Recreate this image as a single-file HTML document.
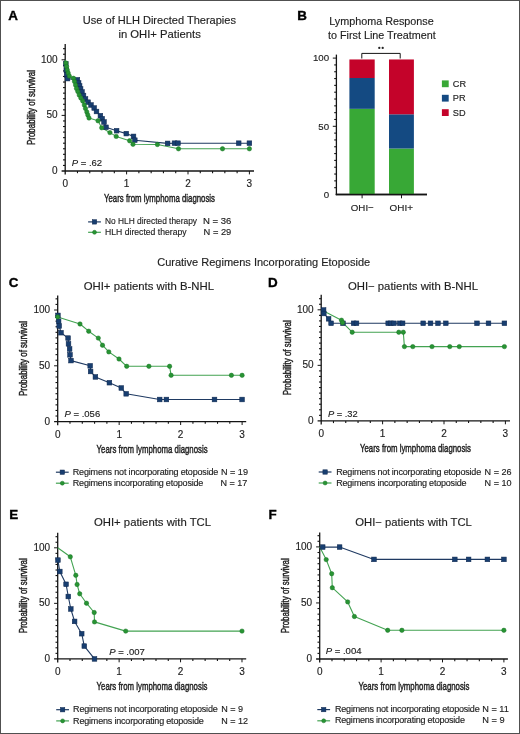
<!DOCTYPE html>
<html><head><meta charset="utf-8"><title>Figure</title>
<style>
html,body{margin:0;padding:0;background:#fff;}
body{width:520px;height:734px;overflow:hidden;position:relative;}
svg{position:absolute;left:0;top:0;display:block;will-change:transform;}
text{font-family:"Liberation Sans",sans-serif;}
</style></head><body>
<svg width="520" height="734" viewBox="0 0 520 734">
<rect x="0" y="0" width="520" height="734" fill="#fff"/>
<text x="8.20" y="19.60" font-size="13.4" font-weight="bold" fill="#000" stroke="#000" stroke-width="0.35">A</text>
<text x="82.80" y="23.80" font-size="11" textLength="153.20" lengthAdjust="spacingAndGlyphs" fill="#1e1e1e" stroke="#1e1e1e" stroke-width="0.15">Use of HLH Directed Therapies</text>
<text x="118.40" y="37.80" font-size="11" textLength="82.40" lengthAdjust="spacingAndGlyphs" fill="#1e1e1e" stroke="#1e1e1e" stroke-width="0.15">in OHI+ Patients</text>
<line x1="65.20" y1="44.00" x2="65.20" y2="174.60" stroke="#141414" stroke-width="1.3"/>
<line x1="61.60" y1="171.00" x2="254.00" y2="171.00" stroke="#141414" stroke-width="1.3"/>
<line x1="63.00" y1="165.44" x2="65.20" y2="165.44" stroke="#141414" stroke-width="1.1"/>
<line x1="63.00" y1="159.88" x2="65.20" y2="159.88" stroke="#141414" stroke-width="1.1"/>
<line x1="63.00" y1="154.32" x2="65.20" y2="154.32" stroke="#141414" stroke-width="1.1"/>
<line x1="63.00" y1="148.76" x2="65.20" y2="148.76" stroke="#141414" stroke-width="1.1"/>
<line x1="63.00" y1="143.20" x2="65.20" y2="143.20" stroke="#141414" stroke-width="1.1"/>
<line x1="63.00" y1="137.64" x2="65.20" y2="137.64" stroke="#141414" stroke-width="1.1"/>
<line x1="63.00" y1="132.08" x2="65.20" y2="132.08" stroke="#141414" stroke-width="1.1"/>
<line x1="63.00" y1="126.52" x2="65.20" y2="126.52" stroke="#141414" stroke-width="1.1"/>
<line x1="63.00" y1="120.96" x2="65.20" y2="120.96" stroke="#141414" stroke-width="1.1"/>
<line x1="61.60" y1="115.40" x2="65.20" y2="115.40" stroke="#141414" stroke-width="1.0"/>
<line x1="63.00" y1="109.84" x2="65.20" y2="109.84" stroke="#141414" stroke-width="1.1"/>
<line x1="63.00" y1="104.28" x2="65.20" y2="104.28" stroke="#141414" stroke-width="1.1"/>
<line x1="63.00" y1="98.72" x2="65.20" y2="98.72" stroke="#141414" stroke-width="1.1"/>
<line x1="63.00" y1="93.16" x2="65.20" y2="93.16" stroke="#141414" stroke-width="1.1"/>
<line x1="63.00" y1="87.60" x2="65.20" y2="87.60" stroke="#141414" stroke-width="1.1"/>
<line x1="63.00" y1="82.04" x2="65.20" y2="82.04" stroke="#141414" stroke-width="1.1"/>
<line x1="63.00" y1="76.48" x2="65.20" y2="76.48" stroke="#141414" stroke-width="1.1"/>
<line x1="63.00" y1="70.92" x2="65.20" y2="70.92" stroke="#141414" stroke-width="1.1"/>
<line x1="63.00" y1="65.36" x2="65.20" y2="65.36" stroke="#141414" stroke-width="1.1"/>
<line x1="61.60" y1="59.80" x2="65.20" y2="59.80" stroke="#141414" stroke-width="1.0"/>
<line x1="63.00" y1="54.24" x2="65.20" y2="54.24" stroke="#141414" stroke-width="1.1"/>
<line x1="63.00" y1="48.68" x2="65.20" y2="48.68" stroke="#141414" stroke-width="1.1"/>
<line x1="77.48" y1="171.00" x2="77.48" y2="173.20" stroke="#141414" stroke-width="1.1"/>
<line x1="89.76" y1="171.00" x2="89.76" y2="173.20" stroke="#141414" stroke-width="1.1"/>
<line x1="102.04" y1="171.00" x2="102.04" y2="173.20" stroke="#141414" stroke-width="1.1"/>
<line x1="114.32" y1="171.00" x2="114.32" y2="173.20" stroke="#141414" stroke-width="1.1"/>
<line x1="126.60" y1="171.00" x2="126.60" y2="174.40" stroke="#141414" stroke-width="1.0"/>
<line x1="138.88" y1="171.00" x2="138.88" y2="173.20" stroke="#141414" stroke-width="1.1"/>
<line x1="151.16" y1="171.00" x2="151.16" y2="173.20" stroke="#141414" stroke-width="1.1"/>
<line x1="163.44" y1="171.00" x2="163.44" y2="173.20" stroke="#141414" stroke-width="1.1"/>
<line x1="175.72" y1="171.00" x2="175.72" y2="173.20" stroke="#141414" stroke-width="1.1"/>
<line x1="188.00" y1="171.00" x2="188.00" y2="174.40" stroke="#141414" stroke-width="1.0"/>
<line x1="200.28" y1="171.00" x2="200.28" y2="173.20" stroke="#141414" stroke-width="1.1"/>
<line x1="212.56" y1="171.00" x2="212.56" y2="173.20" stroke="#141414" stroke-width="1.1"/>
<line x1="224.84" y1="171.00" x2="224.84" y2="173.20" stroke="#141414" stroke-width="1.1"/>
<line x1="237.12" y1="171.00" x2="237.12" y2="173.20" stroke="#141414" stroke-width="1.1"/>
<line x1="249.40" y1="171.00" x2="249.40" y2="174.40" stroke="#141414" stroke-width="1.0"/>
<text x="57.60" y="174.00" font-size="10" text-anchor="end" fill="#1e1e1e" stroke="#1e1e1e" stroke-width="0.15">0</text>
<text x="57.60" y="118.40" font-size="10" text-anchor="end" fill="#1e1e1e" stroke="#1e1e1e" stroke-width="0.15">50</text>
<text x="57.60" y="62.80" font-size="10" text-anchor="end" fill="#1e1e1e" stroke="#1e1e1e" stroke-width="0.15">100</text>
<text x="65.20" y="186.90" font-size="10" text-anchor="middle" fill="#1e1e1e" stroke="#1e1e1e" stroke-width="0.15">0</text>
<text x="126.60" y="186.90" font-size="10" text-anchor="middle" fill="#1e1e1e" stroke="#1e1e1e" stroke-width="0.15">1</text>
<text x="188.00" y="186.90" font-size="10" text-anchor="middle" fill="#1e1e1e" stroke="#1e1e1e" stroke-width="0.15">2</text>
<text x="249.40" y="186.90" font-size="10" text-anchor="middle" fill="#1e1e1e" stroke="#1e1e1e" stroke-width="0.15">3</text>
<text x="159.50" y="202.30" font-size="11.4" text-anchor="middle" textLength="111.00" lengthAdjust="spacingAndGlyphs" fill="#1e1e1e" stroke="#1e1e1e" stroke-width="0.45">Years from lymphoma diagnosis</text>
<text x="0" y="0" font-size="11.2" text-anchor="middle" textLength="75" lengthAdjust="spacingAndGlyphs" transform="translate(34.80,107.50) rotate(-90)" fill="#1e1e1e" stroke="#1e1e1e" stroke-width="0.45">Probability of survival</text>
<polyline points="65.20,59.80 65.80,64.00 66.30,70.00 66.80,75.00 67.50,78.60 77.40,79.80 78.60,83.00 79.60,86.00 80.60,89.00 82.00,92.00 83.50,95.50 85.50,99.00 88.10,102.20 91.00,105.00 94.20,108.00 96.50,111.50 100.40,115.70 102.20,118.70 104.00,122.00 106.00,127.30 116.60,130.70 126.30,133.60 133.50,136.40 134.80,140.20 167.60,143.40 174.50,143.20 178.00,143.20 238.70,143.20 249.40,143.20" fill="none" stroke="#1f3a62" stroke-width="1.1" stroke-linejoin="round"/>
<polyline points="65.20,59.80 65.90,63.00 66.60,66.50 67.30,70.00 68.20,73.00 69.30,76.00 73.50,78.30 74.50,81.50 75.50,85.00 76.50,88.50 77.80,91.50 79.20,95.00 80.80,98.00 82.70,101.00 84.30,105.00 85.50,108.50 86.80,112.00 87.80,115.00 89.00,118.00 98.00,120.80 101.70,127.80 109.90,132.60 116.20,136.40 129.60,140.80 133.00,144.30 157.40,144.50 178.50,148.80 222.50,148.80 249.40,148.80" fill="none" stroke="#43a352" stroke-width="1.1" stroke-linejoin="round"/>
<rect x="63.45" y="61.65" width="4.7" height="4.7" fill="#183e70" stroke="#10294f" stroke-width="0.5"/>
<rect x="63.95" y="67.65" width="4.7" height="4.7" fill="#183e70" stroke="#10294f" stroke-width="0.5"/>
<rect x="64.45" y="72.65" width="4.7" height="4.7" fill="#183e70" stroke="#10294f" stroke-width="0.5"/>
<rect x="65.15" y="76.25" width="4.7" height="4.7" fill="#183e70" stroke="#10294f" stroke-width="0.5"/>
<rect x="75.05" y="77.45" width="4.7" height="4.7" fill="#183e70" stroke="#10294f" stroke-width="0.5"/>
<rect x="76.25" y="80.65" width="4.7" height="4.7" fill="#183e70" stroke="#10294f" stroke-width="0.5"/>
<rect x="77.25" y="83.65" width="4.7" height="4.7" fill="#183e70" stroke="#10294f" stroke-width="0.5"/>
<rect x="78.25" y="86.65" width="4.7" height="4.7" fill="#183e70" stroke="#10294f" stroke-width="0.5"/>
<rect x="79.65" y="89.65" width="4.7" height="4.7" fill="#183e70" stroke="#10294f" stroke-width="0.5"/>
<rect x="81.15" y="93.15" width="4.7" height="4.7" fill="#183e70" stroke="#10294f" stroke-width="0.5"/>
<rect x="83.15" y="96.65" width="4.7" height="4.7" fill="#183e70" stroke="#10294f" stroke-width="0.5"/>
<rect x="85.75" y="99.85" width="4.7" height="4.7" fill="#183e70" stroke="#10294f" stroke-width="0.5"/>
<rect x="88.65" y="102.65" width="4.7" height="4.7" fill="#183e70" stroke="#10294f" stroke-width="0.5"/>
<rect x="91.85" y="105.65" width="4.7" height="4.7" fill="#183e70" stroke="#10294f" stroke-width="0.5"/>
<rect x="94.15" y="109.15" width="4.7" height="4.7" fill="#183e70" stroke="#10294f" stroke-width="0.5"/>
<rect x="98.05" y="113.35" width="4.7" height="4.7" fill="#183e70" stroke="#10294f" stroke-width="0.5"/>
<rect x="99.85" y="116.35" width="4.7" height="4.7" fill="#183e70" stroke="#10294f" stroke-width="0.5"/>
<rect x="101.65" y="119.65" width="4.7" height="4.7" fill="#183e70" stroke="#10294f" stroke-width="0.5"/>
<rect x="103.65" y="124.95" width="4.7" height="4.7" fill="#183e70" stroke="#10294f" stroke-width="0.5"/>
<rect x="114.25" y="128.35" width="4.7" height="4.7" fill="#183e70" stroke="#10294f" stroke-width="0.5"/>
<rect x="123.95" y="131.25" width="4.7" height="4.7" fill="#183e70" stroke="#10294f" stroke-width="0.5"/>
<rect x="131.15" y="134.05" width="4.7" height="4.7" fill="#183e70" stroke="#10294f" stroke-width="0.5"/>
<rect x="132.45" y="137.85" width="4.7" height="4.7" fill="#183e70" stroke="#10294f" stroke-width="0.5"/>
<rect x="165.25" y="141.05" width="4.7" height="4.7" fill="#183e70" stroke="#10294f" stroke-width="0.5"/>
<rect x="172.15" y="140.85" width="4.7" height="4.7" fill="#183e70" stroke="#10294f" stroke-width="0.5"/>
<rect x="175.65" y="140.85" width="4.7" height="4.7" fill="#183e70" stroke="#10294f" stroke-width="0.5"/>
<rect x="236.35" y="140.85" width="4.7" height="4.7" fill="#183e70" stroke="#10294f" stroke-width="0.5"/>
<rect x="247.05" y="140.85" width="4.7" height="4.7" fill="#183e70" stroke="#10294f" stroke-width="0.5"/>
<circle cx="65.90" cy="63.00" r="2.2" fill="#289433" stroke="#1b7428" stroke-width="0.5"/>
<circle cx="66.60" cy="66.50" r="2.2" fill="#289433" stroke="#1b7428" stroke-width="0.5"/>
<circle cx="67.30" cy="70.00" r="2.2" fill="#289433" stroke="#1b7428" stroke-width="0.5"/>
<circle cx="68.20" cy="73.00" r="2.2" fill="#289433" stroke="#1b7428" stroke-width="0.5"/>
<circle cx="69.30" cy="76.00" r="2.2" fill="#289433" stroke="#1b7428" stroke-width="0.5"/>
<circle cx="73.50" cy="78.30" r="2.2" fill="#289433" stroke="#1b7428" stroke-width="0.5"/>
<circle cx="74.50" cy="81.50" r="2.2" fill="#289433" stroke="#1b7428" stroke-width="0.5"/>
<circle cx="75.50" cy="85.00" r="2.2" fill="#289433" stroke="#1b7428" stroke-width="0.5"/>
<circle cx="76.50" cy="88.50" r="2.2" fill="#289433" stroke="#1b7428" stroke-width="0.5"/>
<circle cx="77.80" cy="91.50" r="2.2" fill="#289433" stroke="#1b7428" stroke-width="0.5"/>
<circle cx="79.20" cy="95.00" r="2.2" fill="#289433" stroke="#1b7428" stroke-width="0.5"/>
<circle cx="80.80" cy="98.00" r="2.2" fill="#289433" stroke="#1b7428" stroke-width="0.5"/>
<circle cx="82.70" cy="101.00" r="2.2" fill="#289433" stroke="#1b7428" stroke-width="0.5"/>
<circle cx="84.30" cy="105.00" r="2.2" fill="#289433" stroke="#1b7428" stroke-width="0.5"/>
<circle cx="85.50" cy="108.50" r="2.2" fill="#289433" stroke="#1b7428" stroke-width="0.5"/>
<circle cx="86.80" cy="112.00" r="2.2" fill="#289433" stroke="#1b7428" stroke-width="0.5"/>
<circle cx="87.80" cy="115.00" r="2.2" fill="#289433" stroke="#1b7428" stroke-width="0.5"/>
<circle cx="89.00" cy="118.00" r="2.2" fill="#289433" stroke="#1b7428" stroke-width="0.5"/>
<circle cx="98.00" cy="120.80" r="2.2" fill="#289433" stroke="#1b7428" stroke-width="0.5"/>
<circle cx="101.70" cy="127.80" r="2.2" fill="#289433" stroke="#1b7428" stroke-width="0.5"/>
<circle cx="109.90" cy="132.60" r="2.2" fill="#289433" stroke="#1b7428" stroke-width="0.5"/>
<circle cx="116.20" cy="136.40" r="2.2" fill="#289433" stroke="#1b7428" stroke-width="0.5"/>
<circle cx="129.60" cy="140.80" r="2.2" fill="#289433" stroke="#1b7428" stroke-width="0.5"/>
<circle cx="133.00" cy="144.30" r="2.2" fill="#289433" stroke="#1b7428" stroke-width="0.5"/>
<circle cx="157.40" cy="144.50" r="2.2" fill="#289433" stroke="#1b7428" stroke-width="0.5"/>
<circle cx="178.50" cy="148.80" r="2.2" fill="#289433" stroke="#1b7428" stroke-width="0.5"/>
<circle cx="222.50" cy="148.80" r="2.2" fill="#289433" stroke="#1b7428" stroke-width="0.5"/>
<circle cx="249.40" cy="148.80" r="2.2" fill="#289433" stroke="#1b7428" stroke-width="0.5"/>
<text x="71.70" y="166.30" font-size="9.9" textLength="30.40" lengthAdjust="spacingAndGlyphs" fill="#1e1e1e" stroke="#1e1e1e" stroke-width="0.15"><tspan font-style="italic">P</tspan> = .62</text>
<line x1="88.10" y1="221.90" x2="100.90" y2="221.90" stroke="#1f3a62" stroke-width="1.2"/>
<rect x="92.30" y="219.70" width="4.4" height="4.4" fill="#183e70" stroke="#10294f" stroke-width="0.5"/>
<line x1="88.10" y1="232.30" x2="100.90" y2="232.30" stroke="#43a352" stroke-width="1.2"/>
<circle cx="94.50" cy="232.30" r="2.0" fill="#289433" stroke="#1b7428" stroke-width="0.5"/>
<text x="105.00" y="224.20" font-size="9.0" textLength="92.00" lengthAdjust="spacingAndGlyphs" fill="#1e1e1e" stroke="#1e1e1e" stroke-width="0.15">No HLH directed therapy</text>
<text x="202.90" y="224.20" font-size="9.0" textLength="28.40" lengthAdjust="spacingAndGlyphs" fill="#1e1e1e" stroke="#1e1e1e" stroke-width="0.15">N = 36</text>
<text x="105.00" y="235.00" font-size="9.0" textLength="81.60" lengthAdjust="spacingAndGlyphs" fill="#1e1e1e" stroke="#1e1e1e" stroke-width="0.15">HLH directed therapy</text>
<text x="203.60" y="235.00" font-size="9.0" textLength="27.70" lengthAdjust="spacingAndGlyphs" fill="#1e1e1e" stroke="#1e1e1e" stroke-width="0.15">N = 29</text>
<text x="297.20" y="19.80" font-size="13.4" font-weight="bold" fill="#000" stroke="#000" stroke-width="0.35">B</text>
<text x="329.20" y="24.60" font-size="11" textLength="104.60" lengthAdjust="spacingAndGlyphs" fill="#1e1e1e" stroke="#1e1e1e" stroke-width="0.15">Lymphoma Response</text>
<text x="328.00" y="38.60" font-size="11" textLength="107.80" lengthAdjust="spacingAndGlyphs" fill="#1e1e1e" stroke="#1e1e1e" stroke-width="0.15">to First Line Treatment</text>
<line x1="336.40" y1="54.60" x2="336.40" y2="195.10" stroke="#141414" stroke-width="1.3"/>
<line x1="335.80" y1="194.50" x2="427.00" y2="194.50" stroke="#141414" stroke-width="1.3"/>
<line x1="334.20" y1="187.68" x2="336.40" y2="187.68" stroke="#141414" stroke-width="1.1"/>
<line x1="334.20" y1="180.86" x2="336.40" y2="180.86" stroke="#141414" stroke-width="1.1"/>
<line x1="334.20" y1="174.04" x2="336.40" y2="174.04" stroke="#141414" stroke-width="1.1"/>
<line x1="334.20" y1="167.22" x2="336.40" y2="167.22" stroke="#141414" stroke-width="1.1"/>
<line x1="334.20" y1="160.40" x2="336.40" y2="160.40" stroke="#141414" stroke-width="1.1"/>
<line x1="334.20" y1="153.58" x2="336.40" y2="153.58" stroke="#141414" stroke-width="1.1"/>
<line x1="334.20" y1="146.76" x2="336.40" y2="146.76" stroke="#141414" stroke-width="1.1"/>
<line x1="334.20" y1="139.94" x2="336.40" y2="139.94" stroke="#141414" stroke-width="1.1"/>
<line x1="334.20" y1="133.12" x2="336.40" y2="133.12" stroke="#141414" stroke-width="1.1"/>
<line x1="332.80" y1="126.30" x2="336.40" y2="126.30" stroke="#141414" stroke-width="1.0"/>
<line x1="334.20" y1="119.48" x2="336.40" y2="119.48" stroke="#141414" stroke-width="1.1"/>
<line x1="334.20" y1="112.66" x2="336.40" y2="112.66" stroke="#141414" stroke-width="1.1"/>
<line x1="334.20" y1="105.84" x2="336.40" y2="105.84" stroke="#141414" stroke-width="1.1"/>
<line x1="334.20" y1="99.02" x2="336.40" y2="99.02" stroke="#141414" stroke-width="1.1"/>
<line x1="334.20" y1="92.20" x2="336.40" y2="92.20" stroke="#141414" stroke-width="1.1"/>
<line x1="334.20" y1="85.38" x2="336.40" y2="85.38" stroke="#141414" stroke-width="1.1"/>
<line x1="334.20" y1="78.56" x2="336.40" y2="78.56" stroke="#141414" stroke-width="1.1"/>
<line x1="334.20" y1="71.74" x2="336.40" y2="71.74" stroke="#141414" stroke-width="1.1"/>
<line x1="334.20" y1="64.92" x2="336.40" y2="64.92" stroke="#141414" stroke-width="1.1"/>
<line x1="332.80" y1="58.10" x2="336.40" y2="58.10" stroke="#141414" stroke-width="1.0"/>
<text x="329.10" y="197.70" font-size="9.7" text-anchor="end" fill="#1e1e1e" stroke="#1e1e1e" stroke-width="0.15">0</text>
<text x="329.10" y="129.50" font-size="9.7" text-anchor="end" fill="#1e1e1e" stroke="#1e1e1e" stroke-width="0.15">50</text>
<text x="329.10" y="61.30" font-size="9.7" text-anchor="end" fill="#1e1e1e" stroke="#1e1e1e" stroke-width="0.15">100</text>
<rect x="349.40" y="108.84" width="25.30" height="85.66" fill="#38a836"/>
<rect x="349.40" y="78.01" width="25.30" height="30.83" fill="#144a82"/>
<rect x="349.40" y="59.46" width="25.30" height="18.55" fill="#c4032a"/>
<rect x="389.00" y="148.53" width="24.90" height="45.97" fill="#38a836"/>
<rect x="389.00" y="114.30" width="24.90" height="34.24" fill="#144a82"/>
<rect x="389.00" y="59.46" width="24.90" height="54.83" fill="#c4032a"/>
<line x1="335.80" y1="194.50" x2="427.00" y2="194.50" stroke="#141414" stroke-width="1.3"/>
<line x1="362.10" y1="194.50" x2="362.10" y2="198.30" stroke="#141414" stroke-width="1.0"/>
<line x1="401.50" y1="194.50" x2="401.50" y2="198.30" stroke="#141414" stroke-width="1.0"/>
<text x="362.30" y="210.80" font-size="9.6" text-anchor="middle" textLength="23.00" lengthAdjust="spacingAndGlyphs" fill="#1e1e1e" stroke="#1e1e1e" stroke-width="0.15">OHI−</text>
<text x="401.30" y="210.80" font-size="9.6" text-anchor="middle" textLength="23.40" lengthAdjust="spacingAndGlyphs" fill="#1e1e1e" stroke="#1e1e1e" stroke-width="0.15">OHI+</text>
<polyline points="361.8,58.5 361.8,53.4 400.2,53.4 400.2,58.5" fill="none" stroke="#141414" stroke-width="1"/>
<circle cx="379.3" cy="47.9" r="1.15" fill="#222"/><circle cx="382.7" cy="47.9" r="1.15" fill="#222"/>
<rect x="441.9" y="80.40" width="6.8" height="6.8" fill="#38a836"/>
<text x="452.80" y="86.80" font-size="9.2" fill="#1e1e1e" stroke="#1e1e1e" stroke-width="0.15">CR</text>
<rect x="441.9" y="94.80" width="6.8" height="6.8" fill="#144a82"/>
<text x="452.80" y="101.20" font-size="9.2" fill="#1e1e1e" stroke="#1e1e1e" stroke-width="0.15">PR</text>
<rect x="441.9" y="109.20" width="6.8" height="6.8" fill="#c4032a"/>
<text x="452.80" y="115.60" font-size="9.2" fill="#1e1e1e" stroke="#1e1e1e" stroke-width="0.15">SD</text>
<text x="157.20" y="265.50" font-size="11" textLength="213.00" lengthAdjust="spacingAndGlyphs" fill="#1e1e1e" stroke="#1e1e1e" stroke-width="0.15">Curative Regimens Incorporating Etoposide</text>
<text x="8.80" y="287.00" font-size="13.4" font-weight="bold" fill="#000" stroke="#000" stroke-width="0.35">C</text>
<text x="83.70" y="289.70" font-size="11.3" textLength="130.30" lengthAdjust="spacingAndGlyphs" fill="#1e1e1e" stroke="#1e1e1e" stroke-width="0.15">OHI+ patients with B-NHL</text>
<line x1="57.70" y1="295.40" x2="57.70" y2="425.20" stroke="#141414" stroke-width="1.3"/>
<line x1="54.10" y1="421.60" x2="246.20" y2="421.60" stroke="#141414" stroke-width="1.3"/>
<line x1="55.50" y1="416.02" x2="57.70" y2="416.02" stroke="#141414" stroke-width="1.1"/>
<line x1="55.50" y1="410.44" x2="57.70" y2="410.44" stroke="#141414" stroke-width="1.1"/>
<line x1="55.50" y1="404.86" x2="57.70" y2="404.86" stroke="#141414" stroke-width="1.1"/>
<line x1="55.50" y1="399.28" x2="57.70" y2="399.28" stroke="#141414" stroke-width="1.1"/>
<line x1="55.50" y1="393.70" x2="57.70" y2="393.70" stroke="#141414" stroke-width="1.1"/>
<line x1="55.50" y1="388.12" x2="57.70" y2="388.12" stroke="#141414" stroke-width="1.1"/>
<line x1="55.50" y1="382.54" x2="57.70" y2="382.54" stroke="#141414" stroke-width="1.1"/>
<line x1="55.50" y1="376.96" x2="57.70" y2="376.96" stroke="#141414" stroke-width="1.1"/>
<line x1="55.50" y1="371.38" x2="57.70" y2="371.38" stroke="#141414" stroke-width="1.1"/>
<line x1="54.10" y1="365.80" x2="57.70" y2="365.80" stroke="#141414" stroke-width="1.0"/>
<line x1="55.50" y1="360.22" x2="57.70" y2="360.22" stroke="#141414" stroke-width="1.1"/>
<line x1="55.50" y1="354.64" x2="57.70" y2="354.64" stroke="#141414" stroke-width="1.1"/>
<line x1="55.50" y1="349.06" x2="57.70" y2="349.06" stroke="#141414" stroke-width="1.1"/>
<line x1="55.50" y1="343.48" x2="57.70" y2="343.48" stroke="#141414" stroke-width="1.1"/>
<line x1="55.50" y1="337.90" x2="57.70" y2="337.90" stroke="#141414" stroke-width="1.1"/>
<line x1="55.50" y1="332.32" x2="57.70" y2="332.32" stroke="#141414" stroke-width="1.1"/>
<line x1="55.50" y1="326.74" x2="57.70" y2="326.74" stroke="#141414" stroke-width="1.1"/>
<line x1="55.50" y1="321.16" x2="57.70" y2="321.16" stroke="#141414" stroke-width="1.1"/>
<line x1="55.50" y1="315.58" x2="57.70" y2="315.58" stroke="#141414" stroke-width="1.1"/>
<line x1="54.10" y1="310.00" x2="57.70" y2="310.00" stroke="#141414" stroke-width="1.0"/>
<line x1="55.50" y1="304.42" x2="57.70" y2="304.42" stroke="#141414" stroke-width="1.1"/>
<line x1="55.50" y1="298.84" x2="57.70" y2="298.84" stroke="#141414" stroke-width="1.1"/>
<line x1="69.99" y1="421.60" x2="69.99" y2="423.80" stroke="#141414" stroke-width="1.1"/>
<line x1="82.29" y1="421.60" x2="82.29" y2="423.80" stroke="#141414" stroke-width="1.1"/>
<line x1="94.58" y1="421.60" x2="94.58" y2="423.80" stroke="#141414" stroke-width="1.1"/>
<line x1="106.88" y1="421.60" x2="106.88" y2="423.80" stroke="#141414" stroke-width="1.1"/>
<line x1="119.17" y1="421.60" x2="119.17" y2="425.00" stroke="#141414" stroke-width="1.0"/>
<line x1="131.46" y1="421.60" x2="131.46" y2="423.80" stroke="#141414" stroke-width="1.1"/>
<line x1="143.76" y1="421.60" x2="143.76" y2="423.80" stroke="#141414" stroke-width="1.1"/>
<line x1="156.05" y1="421.60" x2="156.05" y2="423.80" stroke="#141414" stroke-width="1.1"/>
<line x1="168.35" y1="421.60" x2="168.35" y2="423.80" stroke="#141414" stroke-width="1.1"/>
<line x1="180.64" y1="421.60" x2="180.64" y2="425.00" stroke="#141414" stroke-width="1.0"/>
<line x1="192.93" y1="421.60" x2="192.93" y2="423.80" stroke="#141414" stroke-width="1.1"/>
<line x1="205.23" y1="421.60" x2="205.23" y2="423.80" stroke="#141414" stroke-width="1.1"/>
<line x1="217.52" y1="421.60" x2="217.52" y2="423.80" stroke="#141414" stroke-width="1.1"/>
<line x1="229.82" y1="421.60" x2="229.82" y2="423.80" stroke="#141414" stroke-width="1.1"/>
<line x1="242.11" y1="421.60" x2="242.11" y2="425.00" stroke="#141414" stroke-width="1.0"/>
<text x="50.10" y="424.60" font-size="10" text-anchor="end" fill="#1e1e1e" stroke="#1e1e1e" stroke-width="0.15">0</text>
<text x="50.10" y="368.80" font-size="10" text-anchor="end" fill="#1e1e1e" stroke="#1e1e1e" stroke-width="0.15">50</text>
<text x="50.10" y="313.00" font-size="10" text-anchor="end" fill="#1e1e1e" stroke="#1e1e1e" stroke-width="0.15">100</text>
<text x="57.70" y="437.50" font-size="10" text-anchor="middle" fill="#1e1e1e" stroke="#1e1e1e" stroke-width="0.15">0</text>
<text x="119.17" y="437.50" font-size="10" text-anchor="middle" fill="#1e1e1e" stroke="#1e1e1e" stroke-width="0.15">1</text>
<text x="180.64" y="437.50" font-size="10" text-anchor="middle" fill="#1e1e1e" stroke="#1e1e1e" stroke-width="0.15">2</text>
<text x="242.11" y="437.50" font-size="10" text-anchor="middle" fill="#1e1e1e" stroke="#1e1e1e" stroke-width="0.15">3</text>
<text x="152.10" y="452.90" font-size="11.4" text-anchor="middle" textLength="111.00" lengthAdjust="spacingAndGlyphs" fill="#1e1e1e" stroke="#1e1e1e" stroke-width="0.45">Years from lymphoma diagnosis</text>
<text x="0" y="0" font-size="11.2" text-anchor="middle" textLength="75" lengthAdjust="spacingAndGlyphs" transform="translate(27.30,358.50) rotate(-90)" fill="#1e1e1e" stroke="#1e1e1e" stroke-width="0.45">Probability of survival</text>
<polyline points="57.90,315.40 58.60,321.20 59.20,326.00 61.00,332.70 68.10,338.10 68.50,343.80 69.60,349.00 70.00,354.80 71.00,360.60 90.20,365.80 90.60,371.50 95.40,376.90 109.40,382.70 121.30,388.00 126.20,393.80 159.70,399.50 166.40,399.50 214.50,399.50 242.10,399.50" fill="none" stroke="#1f3a62" stroke-width="1.1" stroke-linejoin="round"/>
<polyline points="57.70,316.90 80.00,324.00 88.70,331.20 98.30,338.10 102.50,345.20 108.80,351.90 119.00,359.00 126.70,366.30 148.90,366.30 169.60,366.30 171.10,375.30 231.40,375.30 242.10,375.30" fill="none" stroke="#43a352" stroke-width="1.1" stroke-linejoin="round"/>
<rect x="55.55" y="313.05" width="4.7" height="4.7" fill="#183e70" stroke="#10294f" stroke-width="0.5"/>
<rect x="56.25" y="318.85" width="4.7" height="4.7" fill="#183e70" stroke="#10294f" stroke-width="0.5"/>
<rect x="56.85" y="323.65" width="4.7" height="4.7" fill="#183e70" stroke="#10294f" stroke-width="0.5"/>
<rect x="58.65" y="330.35" width="4.7" height="4.7" fill="#183e70" stroke="#10294f" stroke-width="0.5"/>
<rect x="65.75" y="335.75" width="4.7" height="4.7" fill="#183e70" stroke="#10294f" stroke-width="0.5"/>
<rect x="66.15" y="341.45" width="4.7" height="4.7" fill="#183e70" stroke="#10294f" stroke-width="0.5"/>
<rect x="67.25" y="346.65" width="4.7" height="4.7" fill="#183e70" stroke="#10294f" stroke-width="0.5"/>
<rect x="67.65" y="352.45" width="4.7" height="4.7" fill="#183e70" stroke="#10294f" stroke-width="0.5"/>
<rect x="68.65" y="358.25" width="4.7" height="4.7" fill="#183e70" stroke="#10294f" stroke-width="0.5"/>
<rect x="87.85" y="363.45" width="4.7" height="4.7" fill="#183e70" stroke="#10294f" stroke-width="0.5"/>
<rect x="88.25" y="369.15" width="4.7" height="4.7" fill="#183e70" stroke="#10294f" stroke-width="0.5"/>
<rect x="93.05" y="374.55" width="4.7" height="4.7" fill="#183e70" stroke="#10294f" stroke-width="0.5"/>
<rect x="107.05" y="380.35" width="4.7" height="4.7" fill="#183e70" stroke="#10294f" stroke-width="0.5"/>
<rect x="118.95" y="385.65" width="4.7" height="4.7" fill="#183e70" stroke="#10294f" stroke-width="0.5"/>
<rect x="123.85" y="391.45" width="4.7" height="4.7" fill="#183e70" stroke="#10294f" stroke-width="0.5"/>
<rect x="157.35" y="397.15" width="4.7" height="4.7" fill="#183e70" stroke="#10294f" stroke-width="0.5"/>
<rect x="164.05" y="397.15" width="4.7" height="4.7" fill="#183e70" stroke="#10294f" stroke-width="0.5"/>
<rect x="212.15" y="397.15" width="4.7" height="4.7" fill="#183e70" stroke="#10294f" stroke-width="0.5"/>
<rect x="239.75" y="397.15" width="4.7" height="4.7" fill="#183e70" stroke="#10294f" stroke-width="0.5"/>
<circle cx="57.70" cy="316.90" r="2.2" fill="#289433" stroke="#1b7428" stroke-width="0.5"/>
<circle cx="80.00" cy="324.00" r="2.2" fill="#289433" stroke="#1b7428" stroke-width="0.5"/>
<circle cx="88.70" cy="331.20" r="2.2" fill="#289433" stroke="#1b7428" stroke-width="0.5"/>
<circle cx="98.30" cy="338.10" r="2.2" fill="#289433" stroke="#1b7428" stroke-width="0.5"/>
<circle cx="102.50" cy="345.20" r="2.2" fill="#289433" stroke="#1b7428" stroke-width="0.5"/>
<circle cx="108.80" cy="351.90" r="2.2" fill="#289433" stroke="#1b7428" stroke-width="0.5"/>
<circle cx="119.00" cy="359.00" r="2.2" fill="#289433" stroke="#1b7428" stroke-width="0.5"/>
<circle cx="126.70" cy="366.30" r="2.2" fill="#289433" stroke="#1b7428" stroke-width="0.5"/>
<circle cx="148.90" cy="366.30" r="2.2" fill="#289433" stroke="#1b7428" stroke-width="0.5"/>
<circle cx="169.60" cy="366.30" r="2.2" fill="#289433" stroke="#1b7428" stroke-width="0.5"/>
<circle cx="171.10" cy="375.30" r="2.2" fill="#289433" stroke="#1b7428" stroke-width="0.5"/>
<circle cx="231.40" cy="375.30" r="2.2" fill="#289433" stroke="#1b7428" stroke-width="0.5"/>
<circle cx="242.10" cy="375.30" r="2.2" fill="#289433" stroke="#1b7428" stroke-width="0.5"/>
<text x="64.50" y="416.50" font-size="9.9" textLength="35.70" lengthAdjust="spacingAndGlyphs" fill="#1e1e1e" stroke="#1e1e1e" stroke-width="0.15"><tspan font-style="italic">P</tspan> = .056</text>
<line x1="55.90" y1="472.20" x2="68.70" y2="472.20" stroke="#1f3a62" stroke-width="1.2"/>
<rect x="60.10" y="470.00" width="4.4" height="4.4" fill="#183e70" stroke="#10294f" stroke-width="0.5"/>
<line x1="55.90" y1="483.20" x2="68.70" y2="483.20" stroke="#43a352" stroke-width="1.2"/>
<circle cx="62.30" cy="483.20" r="2.0" fill="#289433" stroke="#1b7428" stroke-width="0.5"/>
<text x="72.80" y="474.80" font-size="9.0" textLength="145.50" lengthAdjust="spacing" fill="#1e1e1e" stroke="#1e1e1e" stroke-width="0.15">Regimens not incorporating etoposide</text>
<text x="220.90" y="474.80" font-size="9.0" textLength="27.10" lengthAdjust="spacingAndGlyphs" fill="#1e1e1e" stroke="#1e1e1e" stroke-width="0.15">N = 19</text>
<text x="72.80" y="485.80" font-size="9.0" textLength="130.50" lengthAdjust="spacing" fill="#1e1e1e" stroke="#1e1e1e" stroke-width="0.15">Regimens incorporating etoposide</text>
<text x="220.40" y="485.80" font-size="9.0" textLength="26.90" lengthAdjust="spacingAndGlyphs" fill="#1e1e1e" stroke="#1e1e1e" stroke-width="0.15">N = 17</text>
<text x="268.00" y="287.40" font-size="13.4" font-weight="bold" fill="#000" stroke="#000" stroke-width="0.35">D</text>
<text x="347.90" y="289.90" font-size="11.3" textLength="130.10" lengthAdjust="spacingAndGlyphs" fill="#1e1e1e" stroke="#1e1e1e" stroke-width="0.15">OHI− patients with B-NHL</text>
<line x1="321.20" y1="294.80" x2="321.20" y2="424.50" stroke="#141414" stroke-width="1.3"/>
<line x1="317.60" y1="420.90" x2="510.00" y2="420.90" stroke="#141414" stroke-width="1.3"/>
<line x1="319.00" y1="415.34" x2="321.20" y2="415.34" stroke="#141414" stroke-width="1.1"/>
<line x1="319.00" y1="409.79" x2="321.20" y2="409.79" stroke="#141414" stroke-width="1.1"/>
<line x1="319.00" y1="404.23" x2="321.20" y2="404.23" stroke="#141414" stroke-width="1.1"/>
<line x1="319.00" y1="398.68" x2="321.20" y2="398.68" stroke="#141414" stroke-width="1.1"/>
<line x1="319.00" y1="393.12" x2="321.20" y2="393.12" stroke="#141414" stroke-width="1.1"/>
<line x1="319.00" y1="387.57" x2="321.20" y2="387.57" stroke="#141414" stroke-width="1.1"/>
<line x1="319.00" y1="382.01" x2="321.20" y2="382.01" stroke="#141414" stroke-width="1.1"/>
<line x1="319.00" y1="376.46" x2="321.20" y2="376.46" stroke="#141414" stroke-width="1.1"/>
<line x1="319.00" y1="370.90" x2="321.20" y2="370.90" stroke="#141414" stroke-width="1.1"/>
<line x1="317.60" y1="365.35" x2="321.20" y2="365.35" stroke="#141414" stroke-width="1.0"/>
<line x1="319.00" y1="359.79" x2="321.20" y2="359.79" stroke="#141414" stroke-width="1.1"/>
<line x1="319.00" y1="354.24" x2="321.20" y2="354.24" stroke="#141414" stroke-width="1.1"/>
<line x1="319.00" y1="348.69" x2="321.20" y2="348.69" stroke="#141414" stroke-width="1.1"/>
<line x1="319.00" y1="343.13" x2="321.20" y2="343.13" stroke="#141414" stroke-width="1.1"/>
<line x1="319.00" y1="337.57" x2="321.20" y2="337.57" stroke="#141414" stroke-width="1.1"/>
<line x1="319.00" y1="332.02" x2="321.20" y2="332.02" stroke="#141414" stroke-width="1.1"/>
<line x1="319.00" y1="326.47" x2="321.20" y2="326.47" stroke="#141414" stroke-width="1.1"/>
<line x1="319.00" y1="320.91" x2="321.20" y2="320.91" stroke="#141414" stroke-width="1.1"/>
<line x1="319.00" y1="315.36" x2="321.20" y2="315.36" stroke="#141414" stroke-width="1.1"/>
<line x1="317.60" y1="309.80" x2="321.20" y2="309.80" stroke="#141414" stroke-width="1.0"/>
<line x1="319.00" y1="304.25" x2="321.20" y2="304.25" stroke="#141414" stroke-width="1.1"/>
<line x1="319.00" y1="298.69" x2="321.20" y2="298.69" stroke="#141414" stroke-width="1.1"/>
<line x1="333.48" y1="420.90" x2="333.48" y2="423.10" stroke="#141414" stroke-width="1.1"/>
<line x1="345.76" y1="420.90" x2="345.76" y2="423.10" stroke="#141414" stroke-width="1.1"/>
<line x1="358.04" y1="420.90" x2="358.04" y2="423.10" stroke="#141414" stroke-width="1.1"/>
<line x1="370.32" y1="420.90" x2="370.32" y2="423.10" stroke="#141414" stroke-width="1.1"/>
<line x1="382.60" y1="420.90" x2="382.60" y2="424.30" stroke="#141414" stroke-width="1.0"/>
<line x1="394.88" y1="420.90" x2="394.88" y2="423.10" stroke="#141414" stroke-width="1.1"/>
<line x1="407.16" y1="420.90" x2="407.16" y2="423.10" stroke="#141414" stroke-width="1.1"/>
<line x1="419.44" y1="420.90" x2="419.44" y2="423.10" stroke="#141414" stroke-width="1.1"/>
<line x1="431.72" y1="420.90" x2="431.72" y2="423.10" stroke="#141414" stroke-width="1.1"/>
<line x1="444.00" y1="420.90" x2="444.00" y2="424.30" stroke="#141414" stroke-width="1.0"/>
<line x1="456.28" y1="420.90" x2="456.28" y2="423.10" stroke="#141414" stroke-width="1.1"/>
<line x1="468.56" y1="420.90" x2="468.56" y2="423.10" stroke="#141414" stroke-width="1.1"/>
<line x1="480.84" y1="420.90" x2="480.84" y2="423.10" stroke="#141414" stroke-width="1.1"/>
<line x1="493.12" y1="420.90" x2="493.12" y2="423.10" stroke="#141414" stroke-width="1.1"/>
<line x1="505.40" y1="420.90" x2="505.40" y2="424.30" stroke="#141414" stroke-width="1.0"/>
<text x="313.60" y="423.90" font-size="10" text-anchor="end" fill="#1e1e1e" stroke="#1e1e1e" stroke-width="0.15">0</text>
<text x="313.60" y="368.35" font-size="10" text-anchor="end" fill="#1e1e1e" stroke="#1e1e1e" stroke-width="0.15">50</text>
<text x="313.60" y="312.80" font-size="10" text-anchor="end" fill="#1e1e1e" stroke="#1e1e1e" stroke-width="0.15">100</text>
<text x="321.20" y="436.80" font-size="10" text-anchor="middle" fill="#1e1e1e" stroke="#1e1e1e" stroke-width="0.15">0</text>
<text x="382.60" y="436.80" font-size="10" text-anchor="middle" fill="#1e1e1e" stroke="#1e1e1e" stroke-width="0.15">1</text>
<text x="444.00" y="436.80" font-size="10" text-anchor="middle" fill="#1e1e1e" stroke="#1e1e1e" stroke-width="0.15">2</text>
<text x="505.40" y="436.80" font-size="10" text-anchor="middle" fill="#1e1e1e" stroke="#1e1e1e" stroke-width="0.15">3</text>
<text x="415.50" y="452.20" font-size="11.4" text-anchor="middle" textLength="111.00" lengthAdjust="spacingAndGlyphs" fill="#1e1e1e" stroke="#1e1e1e" stroke-width="0.45">Years from lymphoma diagnosis</text>
<text x="0" y="0" font-size="11.2" text-anchor="middle" textLength="75" lengthAdjust="spacingAndGlyphs" transform="translate(290.80,357.85) rotate(-90)" fill="#1e1e1e" stroke="#1e1e1e" stroke-width="0.45">Probability of survival</text>
<polyline points="321.20,309.80 323.60,310.00 323.80,313.50 328.60,318.80 331.10,323.30 343.00,323.30 353.60,323.30 356.50,323.30 388.20,323.30 391.00,323.30 394.00,323.30 399.70,323.30 402.60,323.30 423.20,323.30 430.50,323.30 438.00,323.30 445.80,323.30 477.00,323.30 488.50,323.30 504.40,323.30" fill="none" stroke="#1f3a62" stroke-width="1.1" stroke-linejoin="round"/>
<polyline points="321.20,309.80 341.50,320.20 342.60,322.70 352.20,332.20 398.80,332.20 403.30,332.20 404.40,346.60 412.80,346.60 432.00,346.60 449.80,346.60 459.30,346.60 504.40,346.60" fill="none" stroke="#43a352" stroke-width="1.1" stroke-linejoin="round"/>
<rect x="321.25" y="307.65" width="4.7" height="4.7" fill="#183e70" stroke="#10294f" stroke-width="0.5"/>
<rect x="321.45" y="311.15" width="4.7" height="4.7" fill="#183e70" stroke="#10294f" stroke-width="0.5"/>
<rect x="326.25" y="316.45" width="4.7" height="4.7" fill="#183e70" stroke="#10294f" stroke-width="0.5"/>
<rect x="328.75" y="320.95" width="4.7" height="4.7" fill="#183e70" stroke="#10294f" stroke-width="0.5"/>
<rect x="340.65" y="320.95" width="4.7" height="4.7" fill="#183e70" stroke="#10294f" stroke-width="0.5"/>
<rect x="351.25" y="320.95" width="4.7" height="4.7" fill="#183e70" stroke="#10294f" stroke-width="0.5"/>
<rect x="354.15" y="320.95" width="4.7" height="4.7" fill="#183e70" stroke="#10294f" stroke-width="0.5"/>
<rect x="385.85" y="320.95" width="4.7" height="4.7" fill="#183e70" stroke="#10294f" stroke-width="0.5"/>
<rect x="388.65" y="320.95" width="4.7" height="4.7" fill="#183e70" stroke="#10294f" stroke-width="0.5"/>
<rect x="391.65" y="320.95" width="4.7" height="4.7" fill="#183e70" stroke="#10294f" stroke-width="0.5"/>
<rect x="397.35" y="320.95" width="4.7" height="4.7" fill="#183e70" stroke="#10294f" stroke-width="0.5"/>
<rect x="400.25" y="320.95" width="4.7" height="4.7" fill="#183e70" stroke="#10294f" stroke-width="0.5"/>
<rect x="420.85" y="320.95" width="4.7" height="4.7" fill="#183e70" stroke="#10294f" stroke-width="0.5"/>
<rect x="428.15" y="320.95" width="4.7" height="4.7" fill="#183e70" stroke="#10294f" stroke-width="0.5"/>
<rect x="435.65" y="320.95" width="4.7" height="4.7" fill="#183e70" stroke="#10294f" stroke-width="0.5"/>
<rect x="443.45" y="320.95" width="4.7" height="4.7" fill="#183e70" stroke="#10294f" stroke-width="0.5"/>
<rect x="474.65" y="320.95" width="4.7" height="4.7" fill="#183e70" stroke="#10294f" stroke-width="0.5"/>
<rect x="486.15" y="320.95" width="4.7" height="4.7" fill="#183e70" stroke="#10294f" stroke-width="0.5"/>
<rect x="502.05" y="320.95" width="4.7" height="4.7" fill="#183e70" stroke="#10294f" stroke-width="0.5"/>
<circle cx="341.50" cy="320.20" r="2.2" fill="#289433" stroke="#1b7428" stroke-width="0.5"/>
<circle cx="342.60" cy="322.70" r="2.2" fill="#289433" stroke="#1b7428" stroke-width="0.5"/>
<circle cx="352.20" cy="332.20" r="2.2" fill="#289433" stroke="#1b7428" stroke-width="0.5"/>
<circle cx="398.80" cy="332.20" r="2.2" fill="#289433" stroke="#1b7428" stroke-width="0.5"/>
<circle cx="403.30" cy="332.20" r="2.2" fill="#289433" stroke="#1b7428" stroke-width="0.5"/>
<circle cx="404.40" cy="346.60" r="2.2" fill="#289433" stroke="#1b7428" stroke-width="0.5"/>
<circle cx="412.80" cy="346.60" r="2.2" fill="#289433" stroke="#1b7428" stroke-width="0.5"/>
<circle cx="432.00" cy="346.60" r="2.2" fill="#289433" stroke="#1b7428" stroke-width="0.5"/>
<circle cx="449.80" cy="346.60" r="2.2" fill="#289433" stroke="#1b7428" stroke-width="0.5"/>
<circle cx="459.30" cy="346.60" r="2.2" fill="#289433" stroke="#1b7428" stroke-width="0.5"/>
<circle cx="504.40" cy="346.60" r="2.2" fill="#289433" stroke="#1b7428" stroke-width="0.5"/>
<text x="327.90" y="416.50" font-size="9.9" textLength="29.80" lengthAdjust="spacingAndGlyphs" fill="#1e1e1e" stroke="#1e1e1e" stroke-width="0.15"><tspan font-style="italic">P</tspan> = .32</text>
<line x1="318.70" y1="472.00" x2="331.50" y2="472.00" stroke="#1f3a62" stroke-width="1.2"/>
<rect x="322.90" y="469.80" width="4.4" height="4.4" fill="#183e70" stroke="#10294f" stroke-width="0.5"/>
<line x1="318.70" y1="483.00" x2="331.50" y2="483.00" stroke="#43a352" stroke-width="1.2"/>
<circle cx="325.10" cy="483.00" r="2.0" fill="#289433" stroke="#1b7428" stroke-width="0.5"/>
<text x="336.20" y="474.60" font-size="9.0" textLength="145.00" lengthAdjust="spacing" fill="#1e1e1e" stroke="#1e1e1e" stroke-width="0.15">Regimens not incorporating etoposide</text>
<text x="484.60" y="474.60" font-size="9.0" textLength="26.90" lengthAdjust="spacingAndGlyphs" fill="#1e1e1e" stroke="#1e1e1e" stroke-width="0.15">N = 26</text>
<text x="336.20" y="485.60" font-size="9.0" textLength="130.30" lengthAdjust="spacing" fill="#1e1e1e" stroke="#1e1e1e" stroke-width="0.15">Regimens incorporating etoposide</text>
<text x="484.60" y="485.60" font-size="9.0" textLength="26.90" lengthAdjust="spacingAndGlyphs" fill="#1e1e1e" stroke="#1e1e1e" stroke-width="0.15">N = 10</text>
<text x="9.20" y="518.60" font-size="13.4" font-weight="bold" fill="#000" stroke="#000" stroke-width="0.35">E</text>
<text x="94.00" y="526.00" font-size="11.3" textLength="117.10" lengthAdjust="spacingAndGlyphs" fill="#1e1e1e" stroke="#1e1e1e" stroke-width="0.15">OHI+ patients with TCL</text>
<line x1="57.70" y1="532.80" x2="57.70" y2="662.50" stroke="#141414" stroke-width="1.3"/>
<line x1="54.10" y1="658.90" x2="246.20" y2="658.90" stroke="#141414" stroke-width="1.3"/>
<line x1="55.50" y1="653.35" x2="57.70" y2="653.35" stroke="#141414" stroke-width="1.1"/>
<line x1="55.50" y1="647.79" x2="57.70" y2="647.79" stroke="#141414" stroke-width="1.1"/>
<line x1="55.50" y1="642.24" x2="57.70" y2="642.24" stroke="#141414" stroke-width="1.1"/>
<line x1="55.50" y1="636.68" x2="57.70" y2="636.68" stroke="#141414" stroke-width="1.1"/>
<line x1="55.50" y1="631.12" x2="57.70" y2="631.12" stroke="#141414" stroke-width="1.1"/>
<line x1="55.50" y1="625.57" x2="57.70" y2="625.57" stroke="#141414" stroke-width="1.1"/>
<line x1="55.50" y1="620.01" x2="57.70" y2="620.01" stroke="#141414" stroke-width="1.1"/>
<line x1="55.50" y1="614.46" x2="57.70" y2="614.46" stroke="#141414" stroke-width="1.1"/>
<line x1="55.50" y1="608.90" x2="57.70" y2="608.90" stroke="#141414" stroke-width="1.1"/>
<line x1="54.10" y1="603.35" x2="57.70" y2="603.35" stroke="#141414" stroke-width="1.0"/>
<line x1="55.50" y1="597.79" x2="57.70" y2="597.79" stroke="#141414" stroke-width="1.1"/>
<line x1="55.50" y1="592.24" x2="57.70" y2="592.24" stroke="#141414" stroke-width="1.1"/>
<line x1="55.50" y1="586.68" x2="57.70" y2="586.68" stroke="#141414" stroke-width="1.1"/>
<line x1="55.50" y1="581.13" x2="57.70" y2="581.13" stroke="#141414" stroke-width="1.1"/>
<line x1="55.50" y1="575.57" x2="57.70" y2="575.57" stroke="#141414" stroke-width="1.1"/>
<line x1="55.50" y1="570.02" x2="57.70" y2="570.02" stroke="#141414" stroke-width="1.1"/>
<line x1="55.50" y1="564.46" x2="57.70" y2="564.46" stroke="#141414" stroke-width="1.1"/>
<line x1="55.50" y1="558.91" x2="57.70" y2="558.91" stroke="#141414" stroke-width="1.1"/>
<line x1="55.50" y1="553.36" x2="57.70" y2="553.36" stroke="#141414" stroke-width="1.1"/>
<line x1="54.10" y1="547.80" x2="57.70" y2="547.80" stroke="#141414" stroke-width="1.0"/>
<line x1="55.50" y1="542.25" x2="57.70" y2="542.25" stroke="#141414" stroke-width="1.1"/>
<line x1="55.50" y1="536.69" x2="57.70" y2="536.69" stroke="#141414" stroke-width="1.1"/>
<line x1="69.99" y1="658.90" x2="69.99" y2="661.10" stroke="#141414" stroke-width="1.1"/>
<line x1="82.27" y1="658.90" x2="82.27" y2="661.10" stroke="#141414" stroke-width="1.1"/>
<line x1="94.56" y1="658.90" x2="94.56" y2="661.10" stroke="#141414" stroke-width="1.1"/>
<line x1="106.84" y1="658.90" x2="106.84" y2="661.10" stroke="#141414" stroke-width="1.1"/>
<line x1="119.13" y1="658.90" x2="119.13" y2="662.30" stroke="#141414" stroke-width="1.0"/>
<line x1="131.42" y1="658.90" x2="131.42" y2="661.10" stroke="#141414" stroke-width="1.1"/>
<line x1="143.70" y1="658.90" x2="143.70" y2="661.10" stroke="#141414" stroke-width="1.1"/>
<line x1="155.99" y1="658.90" x2="155.99" y2="661.10" stroke="#141414" stroke-width="1.1"/>
<line x1="168.27" y1="658.90" x2="168.27" y2="661.10" stroke="#141414" stroke-width="1.1"/>
<line x1="180.56" y1="658.90" x2="180.56" y2="662.30" stroke="#141414" stroke-width="1.0"/>
<line x1="192.85" y1="658.90" x2="192.85" y2="661.10" stroke="#141414" stroke-width="1.1"/>
<line x1="205.13" y1="658.90" x2="205.13" y2="661.10" stroke="#141414" stroke-width="1.1"/>
<line x1="217.42" y1="658.90" x2="217.42" y2="661.10" stroke="#141414" stroke-width="1.1"/>
<line x1="229.70" y1="658.90" x2="229.70" y2="661.10" stroke="#141414" stroke-width="1.1"/>
<line x1="241.99" y1="658.90" x2="241.99" y2="662.30" stroke="#141414" stroke-width="1.0"/>
<text x="50.10" y="661.90" font-size="10" text-anchor="end" fill="#1e1e1e" stroke="#1e1e1e" stroke-width="0.15">0</text>
<text x="50.10" y="606.35" font-size="10" text-anchor="end" fill="#1e1e1e" stroke="#1e1e1e" stroke-width="0.15">50</text>
<text x="50.10" y="550.80" font-size="10" text-anchor="end" fill="#1e1e1e" stroke="#1e1e1e" stroke-width="0.15">100</text>
<text x="57.70" y="674.80" font-size="10" text-anchor="middle" fill="#1e1e1e" stroke="#1e1e1e" stroke-width="0.15">0</text>
<text x="119.13" y="674.80" font-size="10" text-anchor="middle" fill="#1e1e1e" stroke="#1e1e1e" stroke-width="0.15">1</text>
<text x="180.56" y="674.80" font-size="10" text-anchor="middle" fill="#1e1e1e" stroke="#1e1e1e" stroke-width="0.15">2</text>
<text x="241.99" y="674.80" font-size="10" text-anchor="middle" fill="#1e1e1e" stroke="#1e1e1e" stroke-width="0.15">3</text>
<text x="152.04" y="690.20" font-size="11.4" text-anchor="middle" textLength="111.00" lengthAdjust="spacingAndGlyphs" fill="#1e1e1e" stroke="#1e1e1e" stroke-width="0.45">Years from lymphoma diagnosis</text>
<text x="0" y="0" font-size="11.2" text-anchor="middle" textLength="75" lengthAdjust="spacingAndGlyphs" transform="translate(27.30,595.85) rotate(-90)" fill="#1e1e1e" stroke="#1e1e1e" stroke-width="0.45">Probability of survival</text>
<polyline points="57.90,560.10 59.80,571.50 66.10,584.30 68.30,596.50 70.80,609.00 74.60,621.40 81.70,633.70 84.30,646.10 94.50,658.90" fill="none" stroke="#1f3a62" stroke-width="1.1" stroke-linejoin="round"/>
<polyline points="57.70,547.80 70.30,556.80 75.80,575.30 77.10,584.50 79.70,593.80 86.50,603.20 94.20,612.50 94.50,621.90 125.70,631.10 242.00,631.10" fill="none" stroke="#43a352" stroke-width="1.1" stroke-linejoin="round"/>
<rect x="55.55" y="557.75" width="4.7" height="4.7" fill="#183e70" stroke="#10294f" stroke-width="0.5"/>
<rect x="57.45" y="569.15" width="4.7" height="4.7" fill="#183e70" stroke="#10294f" stroke-width="0.5"/>
<rect x="63.75" y="581.95" width="4.7" height="4.7" fill="#183e70" stroke="#10294f" stroke-width="0.5"/>
<rect x="65.95" y="594.15" width="4.7" height="4.7" fill="#183e70" stroke="#10294f" stroke-width="0.5"/>
<rect x="68.45" y="606.65" width="4.7" height="4.7" fill="#183e70" stroke="#10294f" stroke-width="0.5"/>
<rect x="72.25" y="619.05" width="4.7" height="4.7" fill="#183e70" stroke="#10294f" stroke-width="0.5"/>
<rect x="79.35" y="631.35" width="4.7" height="4.7" fill="#183e70" stroke="#10294f" stroke-width="0.5"/>
<rect x="81.95" y="643.75" width="4.7" height="4.7" fill="#183e70" stroke="#10294f" stroke-width="0.5"/>
<rect x="92.15" y="656.55" width="4.7" height="4.7" fill="#183e70" stroke="#10294f" stroke-width="0.5"/>
<circle cx="70.30" cy="556.80" r="2.2" fill="#289433" stroke="#1b7428" stroke-width="0.5"/>
<circle cx="75.80" cy="575.30" r="2.2" fill="#289433" stroke="#1b7428" stroke-width="0.5"/>
<circle cx="77.10" cy="584.50" r="2.2" fill="#289433" stroke="#1b7428" stroke-width="0.5"/>
<circle cx="79.70" cy="593.80" r="2.2" fill="#289433" stroke="#1b7428" stroke-width="0.5"/>
<circle cx="86.50" cy="603.20" r="2.2" fill="#289433" stroke="#1b7428" stroke-width="0.5"/>
<circle cx="94.20" cy="612.50" r="2.2" fill="#289433" stroke="#1b7428" stroke-width="0.5"/>
<circle cx="94.50" cy="621.90" r="2.2" fill="#289433" stroke="#1b7428" stroke-width="0.5"/>
<circle cx="125.70" cy="631.10" r="2.2" fill="#289433" stroke="#1b7428" stroke-width="0.5"/>
<circle cx="242.00" cy="631.10" r="2.2" fill="#289433" stroke="#1b7428" stroke-width="0.5"/>
<text x="109.20" y="654.50" font-size="9.9" textLength="35.60" lengthAdjust="spacingAndGlyphs" fill="#1e1e1e" stroke="#1e1e1e" stroke-width="0.15"><tspan font-style="italic">P</tspan> = .007</text>
<line x1="56.20" y1="709.70" x2="69.00" y2="709.70" stroke="#1f3a62" stroke-width="1.2"/>
<rect x="60.40" y="707.50" width="4.4" height="4.4" fill="#183e70" stroke="#10294f" stroke-width="0.5"/>
<line x1="56.20" y1="720.90" x2="69.00" y2="720.90" stroke="#43a352" stroke-width="1.2"/>
<circle cx="62.60" cy="720.90" r="2.0" fill="#289433" stroke="#1b7428" stroke-width="0.5"/>
<text x="73.10" y="712.30" font-size="9.0" textLength="144.60" lengthAdjust="spacing" fill="#1e1e1e" stroke="#1e1e1e" stroke-width="0.15">Regimens not incorporating etoposide</text>
<text x="221.20" y="712.30" font-size="9.0" textLength="21.90" lengthAdjust="spacingAndGlyphs" fill="#1e1e1e" stroke="#1e1e1e" stroke-width="0.15">N = 9</text>
<text x="73.10" y="723.50" font-size="9.0" textLength="130.70" lengthAdjust="spacing" fill="#1e1e1e" stroke="#1e1e1e" stroke-width="0.15">Regimens incorporating etoposide</text>
<text x="221.20" y="723.50" font-size="9.0" textLength="26.80" lengthAdjust="spacingAndGlyphs" fill="#1e1e1e" stroke="#1e1e1e" stroke-width="0.15">N = 12</text>
<text x="268.50" y="518.80" font-size="13.4" font-weight="bold" fill="#000" stroke="#000" stroke-width="0.35">F</text>
<text x="355.30" y="526.00" font-size="11.3" textLength="116.60" lengthAdjust="spacingAndGlyphs" fill="#1e1e1e" stroke="#1e1e1e" stroke-width="0.15">OHI− patients with TCL</text>
<line x1="319.70" y1="532.60" x2="319.70" y2="662.60" stroke="#141414" stroke-width="1.3"/>
<line x1="316.10" y1="659.00" x2="507.90" y2="659.00" stroke="#141414" stroke-width="1.3"/>
<line x1="317.50" y1="653.39" x2="319.70" y2="653.39" stroke="#141414" stroke-width="1.1"/>
<line x1="317.50" y1="647.79" x2="319.70" y2="647.79" stroke="#141414" stroke-width="1.1"/>
<line x1="317.50" y1="642.18" x2="319.70" y2="642.18" stroke="#141414" stroke-width="1.1"/>
<line x1="317.50" y1="636.58" x2="319.70" y2="636.58" stroke="#141414" stroke-width="1.1"/>
<line x1="317.50" y1="630.98" x2="319.70" y2="630.98" stroke="#141414" stroke-width="1.1"/>
<line x1="317.50" y1="625.37" x2="319.70" y2="625.37" stroke="#141414" stroke-width="1.1"/>
<line x1="317.50" y1="619.76" x2="319.70" y2="619.76" stroke="#141414" stroke-width="1.1"/>
<line x1="317.50" y1="614.16" x2="319.70" y2="614.16" stroke="#141414" stroke-width="1.1"/>
<line x1="317.50" y1="608.55" x2="319.70" y2="608.55" stroke="#141414" stroke-width="1.1"/>
<line x1="316.10" y1="602.95" x2="319.70" y2="602.95" stroke="#141414" stroke-width="1.0"/>
<line x1="317.50" y1="597.35" x2="319.70" y2="597.35" stroke="#141414" stroke-width="1.1"/>
<line x1="317.50" y1="591.74" x2="319.70" y2="591.74" stroke="#141414" stroke-width="1.1"/>
<line x1="317.50" y1="586.13" x2="319.70" y2="586.13" stroke="#141414" stroke-width="1.1"/>
<line x1="317.50" y1="580.53" x2="319.70" y2="580.53" stroke="#141414" stroke-width="1.1"/>
<line x1="317.50" y1="574.92" x2="319.70" y2="574.92" stroke="#141414" stroke-width="1.1"/>
<line x1="317.50" y1="569.32" x2="319.70" y2="569.32" stroke="#141414" stroke-width="1.1"/>
<line x1="317.50" y1="563.71" x2="319.70" y2="563.71" stroke="#141414" stroke-width="1.1"/>
<line x1="317.50" y1="558.11" x2="319.70" y2="558.11" stroke="#141414" stroke-width="1.1"/>
<line x1="317.50" y1="552.50" x2="319.70" y2="552.50" stroke="#141414" stroke-width="1.1"/>
<line x1="316.10" y1="546.90" x2="319.70" y2="546.90" stroke="#141414" stroke-width="1.0"/>
<line x1="317.50" y1="541.29" x2="319.70" y2="541.29" stroke="#141414" stroke-width="1.1"/>
<line x1="317.50" y1="535.69" x2="319.70" y2="535.69" stroke="#141414" stroke-width="1.1"/>
<line x1="331.98" y1="659.00" x2="331.98" y2="661.20" stroke="#141414" stroke-width="1.1"/>
<line x1="344.26" y1="659.00" x2="344.26" y2="661.20" stroke="#141414" stroke-width="1.1"/>
<line x1="356.54" y1="659.00" x2="356.54" y2="661.20" stroke="#141414" stroke-width="1.1"/>
<line x1="368.82" y1="659.00" x2="368.82" y2="661.20" stroke="#141414" stroke-width="1.1"/>
<line x1="381.10" y1="659.00" x2="381.10" y2="662.40" stroke="#141414" stroke-width="1.0"/>
<line x1="393.38" y1="659.00" x2="393.38" y2="661.20" stroke="#141414" stroke-width="1.1"/>
<line x1="405.66" y1="659.00" x2="405.66" y2="661.20" stroke="#141414" stroke-width="1.1"/>
<line x1="417.94" y1="659.00" x2="417.94" y2="661.20" stroke="#141414" stroke-width="1.1"/>
<line x1="430.22" y1="659.00" x2="430.22" y2="661.20" stroke="#141414" stroke-width="1.1"/>
<line x1="442.50" y1="659.00" x2="442.50" y2="662.40" stroke="#141414" stroke-width="1.0"/>
<line x1="454.78" y1="659.00" x2="454.78" y2="661.20" stroke="#141414" stroke-width="1.1"/>
<line x1="467.06" y1="659.00" x2="467.06" y2="661.20" stroke="#141414" stroke-width="1.1"/>
<line x1="479.34" y1="659.00" x2="479.34" y2="661.20" stroke="#141414" stroke-width="1.1"/>
<line x1="491.62" y1="659.00" x2="491.62" y2="661.20" stroke="#141414" stroke-width="1.1"/>
<line x1="503.90" y1="659.00" x2="503.90" y2="662.40" stroke="#141414" stroke-width="1.0"/>
<text x="312.10" y="662.00" font-size="10" text-anchor="end" fill="#1e1e1e" stroke="#1e1e1e" stroke-width="0.15">0</text>
<text x="312.10" y="605.95" font-size="10" text-anchor="end" fill="#1e1e1e" stroke="#1e1e1e" stroke-width="0.15">50</text>
<text x="312.10" y="549.90" font-size="10" text-anchor="end" fill="#1e1e1e" stroke="#1e1e1e" stroke-width="0.15">100</text>
<text x="319.70" y="674.90" font-size="10" text-anchor="middle" fill="#1e1e1e" stroke="#1e1e1e" stroke-width="0.15">0</text>
<text x="381.10" y="674.90" font-size="10" text-anchor="middle" fill="#1e1e1e" stroke="#1e1e1e" stroke-width="0.15">1</text>
<text x="442.50" y="674.90" font-size="10" text-anchor="middle" fill="#1e1e1e" stroke="#1e1e1e" stroke-width="0.15">2</text>
<text x="503.90" y="674.90" font-size="10" text-anchor="middle" fill="#1e1e1e" stroke="#1e1e1e" stroke-width="0.15">3</text>
<text x="414.00" y="690.30" font-size="11.4" text-anchor="middle" textLength="111.00" lengthAdjust="spacingAndGlyphs" fill="#1e1e1e" stroke="#1e1e1e" stroke-width="0.45">Years from lymphoma diagnosis</text>
<text x="0" y="0" font-size="11.2" text-anchor="middle" textLength="75" lengthAdjust="spacingAndGlyphs" transform="translate(289.30,595.80) rotate(-90)" fill="#1e1e1e" stroke="#1e1e1e" stroke-width="0.45">Probability of survival</text>
<polyline points="319.70,547.10 322.70,547.10 339.60,547.10 374.00,559.40 454.80,559.40 468.60,559.40 487.40,559.40 503.90,559.40" fill="none" stroke="#1f3a62" stroke-width="1.1" stroke-linejoin="round"/>
<polyline points="319.70,547.10 326.20,559.60 331.70,573.70 332.30,587.70 347.70,601.90 354.40,616.50 387.70,630.30 401.90,630.30 503.90,630.30" fill="none" stroke="#43a352" stroke-width="1.1" stroke-linejoin="round"/>
<rect x="320.35" y="544.75" width="4.7" height="4.7" fill="#183e70" stroke="#10294f" stroke-width="0.5"/>
<rect x="337.25" y="544.75" width="4.7" height="4.7" fill="#183e70" stroke="#10294f" stroke-width="0.5"/>
<rect x="371.65" y="557.05" width="4.7" height="4.7" fill="#183e70" stroke="#10294f" stroke-width="0.5"/>
<rect x="452.45" y="557.05" width="4.7" height="4.7" fill="#183e70" stroke="#10294f" stroke-width="0.5"/>
<rect x="466.25" y="557.05" width="4.7" height="4.7" fill="#183e70" stroke="#10294f" stroke-width="0.5"/>
<rect x="485.05" y="557.05" width="4.7" height="4.7" fill="#183e70" stroke="#10294f" stroke-width="0.5"/>
<rect x="501.55" y="557.05" width="4.7" height="4.7" fill="#183e70" stroke="#10294f" stroke-width="0.5"/>
<circle cx="326.20" cy="559.60" r="2.2" fill="#289433" stroke="#1b7428" stroke-width="0.5"/>
<circle cx="331.70" cy="573.70" r="2.2" fill="#289433" stroke="#1b7428" stroke-width="0.5"/>
<circle cx="332.30" cy="587.70" r="2.2" fill="#289433" stroke="#1b7428" stroke-width="0.5"/>
<circle cx="347.70" cy="601.90" r="2.2" fill="#289433" stroke="#1b7428" stroke-width="0.5"/>
<circle cx="354.40" cy="616.50" r="2.2" fill="#289433" stroke="#1b7428" stroke-width="0.5"/>
<circle cx="387.70" cy="630.30" r="2.2" fill="#289433" stroke="#1b7428" stroke-width="0.5"/>
<circle cx="401.90" cy="630.30" r="2.2" fill="#289433" stroke="#1b7428" stroke-width="0.5"/>
<circle cx="503.90" cy="630.30" r="2.2" fill="#289433" stroke="#1b7428" stroke-width="0.5"/>
<text x="325.70" y="654.30" font-size="9.9" textLength="35.80" lengthAdjust="spacingAndGlyphs" fill="#1e1e1e" stroke="#1e1e1e" stroke-width="0.15"><tspan font-style="italic">P</tspan> = .004</text>
<line x1="317.30" y1="709.60" x2="330.10" y2="709.60" stroke="#1f3a62" stroke-width="1.2"/>
<rect x="321.50" y="707.40" width="4.4" height="4.4" fill="#183e70" stroke="#10294f" stroke-width="0.5"/>
<line x1="317.30" y1="720.80" x2="330.10" y2="720.80" stroke="#43a352" stroke-width="1.2"/>
<circle cx="323.70" cy="720.80" r="2.0" fill="#289433" stroke="#1b7428" stroke-width="0.5"/>
<text x="335.00" y="712.20" font-size="9.0" textLength="144.70" lengthAdjust="spacing" fill="#1e1e1e" stroke="#1e1e1e" stroke-width="0.15">Regimens not incorporating etoposide</text>
<text x="482.30" y="712.20" font-size="9.0" textLength="26.60" lengthAdjust="spacingAndGlyphs" fill="#1e1e1e" stroke="#1e1e1e" stroke-width="0.15">N = 11</text>
<text x="335.00" y="723.40" font-size="9.0" textLength="129.90" lengthAdjust="spacing" fill="#1e1e1e" stroke="#1e1e1e" stroke-width="0.15">Regimens incorporating etoposide</text>
<text x="482.30" y="723.40" font-size="9.0" textLength="22.30" lengthAdjust="spacingAndGlyphs" fill="#1e1e1e" stroke="#1e1e1e" stroke-width="0.15">N = 9</text>
<rect x="0.5" y="0.5" width="519" height="733" fill="none" stroke="#505050" stroke-width="1"/>
</svg>
</body></html>
